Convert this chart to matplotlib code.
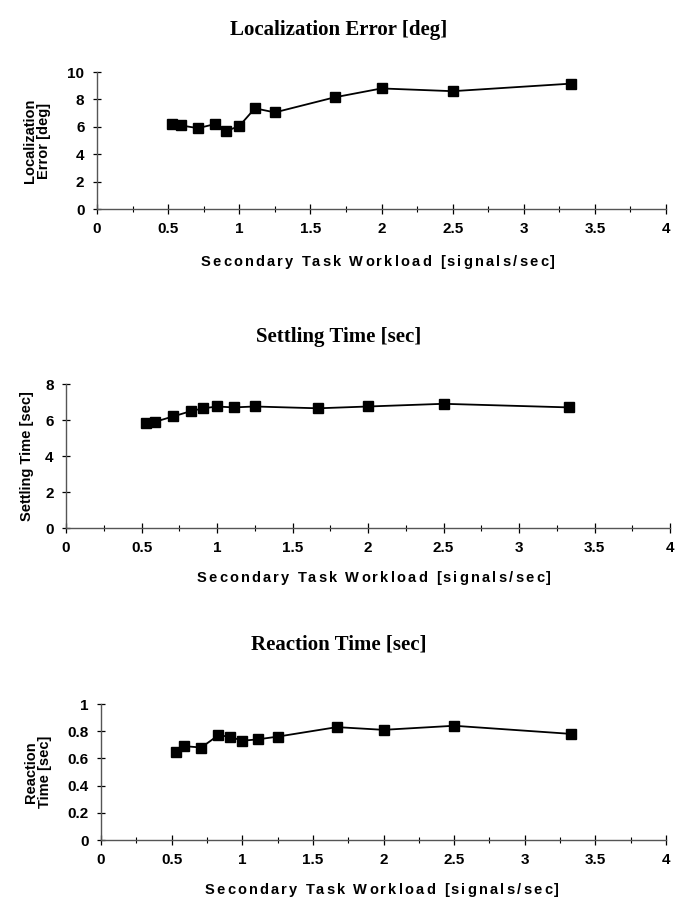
import matplotlib
matplotlib.use("Agg")
import matplotlib.pyplot as plt
from matplotlib.ticker import MultipleLocator

W, H = 677, 905

workload = [0.53, 0.59, 0.71, 0.83, 0.91, 1.0, 1.11, 1.25, 1.67, 2.0, 2.5, 3.33]
loc_error = [6.2, 6.1, 5.9, 6.2, 5.7, 6.05, 7.35, 7.05, 8.15, 8.8, 8.6, 9.15]
settling = [5.85, 5.9, 6.2, 6.5, 6.65, 6.75, 6.7, 6.75, 6.65, 6.75, 6.9, 6.7]
reaction = [0.65, 0.69, 0.68, 0.77, 0.76, 0.73, 0.74, 0.76, 0.83, 0.81, 0.84, 0.78]

titles = ["Localization Error [deg]", "Settling Time [sec]", "Reaction Time [sec]"]
ylabels = ["Localization\nError [deg]", "Settling Time [sec]", "Reaction\nTime [sec]"]
xlabel = "Secondary Task Workload [signals/sec]"
x_ticks = [0, 0.5, 1, 1.5, 2, 2.5, 3, 3.5, 4]
x_ticklabels = ["0", "0.5", "1", "1.5", "2", "2.5", "3", "3.5", "4"]
y_ticks = [[0, 2, 4, 6, 8, 10], [0, 2, 4, 6, 8], [0, 0.2, 0.4, 0.6, 0.8, 1]]
y_ticklabels = [["0", "2", "4", "6", "8", "10"], ["0", "2", "4", "6", "8"],
                ["0", "0.2", "0.4", "0.6", "0.8", "1"]]
series = [loc_error, settling, reaction]

# pixel boxes: left, right, top, bottom
boxes = [(97, 666, 72, 209), (66, 670, 384, 528), (101, 666, 704, 840)]
title_y = [30, 337, 645]
xlabel_y = [262, 578, 890]
xlabel_cx = [378, 374, 382]
ylabel_x = [37, 27, 38]

fig = plt.figure(figsize=(W / 100, H / 100), dpi=100)
renderer = fig.canvas.get_renderer()
sans = "Liberation Sans"
serif = "Liberation Serif"


def text_width(s, **kw):
    t = fig.text(0, 0, s, **kw)
    w = t.get_window_extent(renderer).width
    t.remove()
    return w


def spaced_text(cx_px, y_px, s, spacing, **kw):
    # place characters one by one with extra letter spacing
    xs = []
    for k, ch in enumerate(s):
        if ch == " ":
            xs.append(None)
            continue
        pos = text_width(s[:k + 1], **kw) - text_width(ch, **kw) + k * spacing
        xs.append(pos)
    total = text_width(s, **kw) + (len(s) - 1) * spacing
    x0 = cx_px - total / 2
    for ch, p in zip(s, xs):
        if p is None:
            continue
        fig.text((x0 + p) / W, 1 - y_px / H, ch, ha="left", va="center", **kw)


for i in range(3):
    l, r, t, b = boxes[i]
    ax = fig.add_axes([l / W, 1 - b / H, (r - l) / W, (b - t) / H])
    ax.plot(workload, series[i], color="black", lw=1.3, marker="s",
            markersize=6.5, markerfacecolor="black", markeredgecolor="black")
    ax.set_xlim(0, 4)
    ax.set_ylim(y_ticks[i][0], y_ticks[i][-1])
    ax.set_xticks(x_ticks)
    ax.set_xticklabels(x_ticklabels, fontfamily=sans, fontweight="bold", fontsize=11)
    ax.set_yticks(y_ticks[i])
    ax.set_yticklabels(y_ticklabels[i], fontfamily=sans, fontweight="bold", fontsize=11)
    ax.xaxis.set_minor_locator(MultipleLocator(0.25))
    ax.tick_params(axis="both", which="major", direction="inout", length=7, width=0.9,
                   colors="black", pad=6)
    ax.tick_params(axis="x", which="minor", direction="inout", length=5, width=0.8)
    ax.tick_params(axis="y", which="major", length=6)
    for s in ("top", "right"):
        ax.spines[s].set_visible(False)
    for s in ("left", "bottom"):
        ax.spines[s].set_color("#555555")
        ax.spines[s].set_linewidth(1.0)
    ax.patch.set_alpha(0)
    spaced_text(xlabel_cx[i], xlabel_y[i], xlabel, 2.2,
                fontfamily=sans, fontweight="bold", fontsize=10.5)
    fig.text(0.5, 1 - title_y[i] / H, titles[i], ha="center", va="center",
             fontfamily=serif, fontweight="bold", fontsize=15)
    fig.text(ylabel_x[i] / W, 1 - (t + b) / 2 / H, ylabels[i], ha="center", va="center",
             rotation=90, fontfamily=sans, fontweight="bold", fontsize=10.5,
             linespacing=1.0)

fig.savefig("out.png", dpi=100)
